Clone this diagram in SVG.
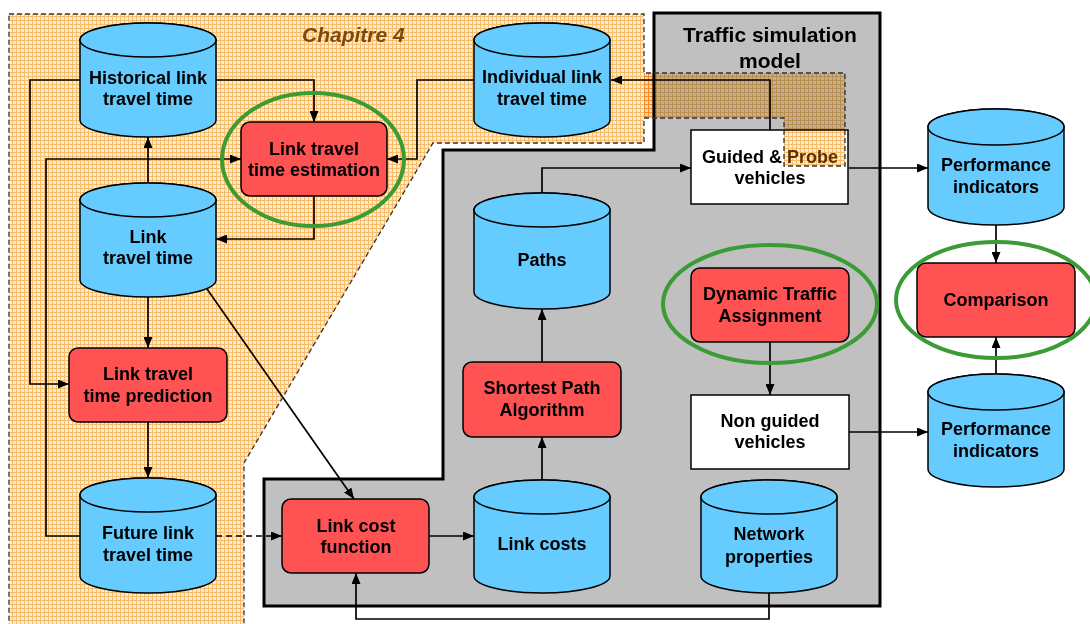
<svg xmlns="http://www.w3.org/2000/svg" width="1090" height="624" viewBox="0 0 1090 624">
  <defs>
    <!-- fine orange grid used for the chapter area -->
    <pattern id="grid" width="4" height="4" patternUnits="userSpaceOnUse">
      <rect width="4" height="4" fill="#feeacf"/>
      <path d="M0 0.5H4M0.5 0V4" stroke="#f8bd6c" stroke-width="1" fill="none"/>
    </pattern>
    <marker id="arrow" viewBox="0 0 11 9" refX="11" refY="4.5" markerWidth="11" markerHeight="9" markerUnits="userSpaceOnUse" orient="auto">
      <path d="M0 0L11 4.5L0 9Z" fill="#000"/>
    </marker>
    <style>
      .lbl { font-family: "Liberation Sans", Arial, sans-serif; font-weight: bold; font-size: 18px; fill: #000; text-anchor: middle; }
      .title { font-family: "Liberation Sans", Arial, sans-serif; font-weight: bold; font-size: 21px; fill: #000; text-anchor: middle; }
      .chap { font-family: "Liberation Sans", Arial, sans-serif; font-weight: bold; font-style: italic; font-size: 21px; fill: #7b4a12; }
      .cyl { fill: #66ccff; stroke: #000; stroke-width: 1.5; }
      .proc { fill: #ff5252; stroke: #000; stroke-width: 1.5; }
      .veh { fill: #fff; stroke: #000; stroke-width: 1.5; }
      .ring { fill: none; stroke: #3b9b34; stroke-width: 4; }
      .conn { fill: none; stroke: #000; stroke-width: 1.7; marker-end: url(#arrow); }
      .dash { stroke-dasharray: 6 4; }
      .zone { fill: none; stroke: #333; stroke-width: 1.3; stroke-dasharray: 5 3; }
      .tint { fill: url(#grid); mix-blend-mode: multiply; }
    </style>
  </defs>

  <rect width="1090" height="624" fill="#fff"/>

  <!-- chapter area background -->
  <path id="chapter-fill" d="M9 14H644V73H845V166H784V118H644V143H433L244 463V630H9Z" fill="url(#grid)"/>

  <!-- traffic simulation model frame -->
  <g id="traffic-model">
    <path d="M654 13H880V606H264V479H443V150H654Z" fill="#c0c0c0" stroke="#000" stroke-width="3"/>
    <text class="title" x="770" y="42">Traffic simulation</text>
    <text class="title" x="770" y="68">model</text>
  </g>

  <text class="chap" x="302" y="42">Chapitre 4</text>

  <g id="connectors">
    <path class="conn" d="M216 80H314V122"/>
    <path class="conn" d="M80 80H30V384H69"/>
    <path class="conn" d="M148 183V137"/>
    <path class="conn" d="M80 536H46V159H241"/>
    <path class="conn" d="M474 80H417V159H387"/>
    <path class="conn" d="M314 196V239H216"/>
    <path class="conn" d="M148 297V348"/>
    <path class="conn" d="M148 422V478"/>
    <path class="conn" d="M207 289L354 499"/>
    <path class="conn dash" d="M216 536H282"/>
    <path class="conn" d="M429 536H474"/>
    <path class="conn" d="M542 480V437"/>
    <path class="conn" d="M542 362V309"/>
    <path class="conn" d="M542 193V168H691"/>
    <path class="conn" d="M770 130V80H611"/>
    <path class="conn" d="M849 168H928"/>
    <path class="conn" d="M770 342V395"/>
    <path class="conn" d="M849 432H928"/>
    <path class="conn" d="M996 225V263"/>
    <path class="conn" d="M996 375V337"/>
    <path class="conn" d="M769 593V619H356V573"/>
  </g>

  <g id="historical-link-travel-time">
    <path class="cyl" d="M80 40V120A68 17 0 0 0 216 120V40A68 17 0 0 0 80 40Z"/>
    <ellipse class="cyl" cx="148" cy="40" rx="68" ry="17"/>
    <text class="lbl" x="148" y="84">Historical link</text>
    <text class="lbl" x="148" y="105">travel time</text>
  </g>

  <g id="link-travel-time">
    <path class="cyl" d="M80 200V280A68 17 0 0 0 216 280V200A68 17 0 0 0 80 200Z"/>
    <ellipse class="cyl" cx="148" cy="200" rx="68" ry="17"/>
    <text class="lbl" x="148" y="243">Link</text>
    <text class="lbl" x="148" y="264">travel time</text>
  </g>

  <g id="link-travel-time-prediction">
    <rect class="proc" x="69" y="348" width="158" height="74" rx="9"/>
    <text class="lbl" x="148" y="380">Link travel</text>
    <text class="lbl" x="148" y="402">time prediction</text>
  </g>

  <g id="future-link-travel-time">
    <path class="cyl" d="M80 495V576A68 17 0 0 0 216 576V495A68 17 0 0 0 80 495Z"/>
    <ellipse class="cyl" cx="148" cy="495" rx="68" ry="17"/>
    <text class="lbl" x="148" y="539">Future link</text>
    <text class="lbl" x="148" y="561">travel time</text>
  </g>

  <g id="link-travel-time-estimation">
    <rect class="proc" x="241" y="122" width="146" height="74" rx="9"/>
    <text class="lbl" x="314" y="155">Link travel</text>
    <text class="lbl" x="314" y="176">time estimation</text>
  </g>

  <g id="individual-link-travel-time">
    <path class="cyl" d="M474 40V120A68 17 0 0 0 610 120V40A68 17 0 0 0 474 40Z"/>
    <ellipse class="cyl" cx="542" cy="40" rx="68" ry="17"/>
    <text class="lbl" x="542" y="83">Individual link</text>
    <text class="lbl" x="542" y="105">travel time</text>
  </g>

  <g id="guided-probe-vehicles">
    <rect class="veh" x="691" y="130" width="157" height="74"/>
    <text class="lbl" x="770" y="163">Guided &amp; <tspan fill="#5a3a08">Probe</tspan></text>
    <text class="lbl" x="770" y="184">vehicles</text>
  </g>

  <g id="paths">
    <path class="cyl" d="M474 210V292A68 17 0 0 0 610 292V210A68 17 0 0 0 474 210Z"/>
    <ellipse class="cyl" cx="542" cy="210" rx="68" ry="17"/>
    <text class="lbl" x="542" y="266">Paths</text>
  </g>

  <g id="shortest-path-algorithm">
    <rect class="proc" x="463" y="362" width="158" height="75" rx="9"/>
    <text class="lbl" x="542" y="394">Shortest Path</text>
    <text class="lbl" x="542" y="416">Algorithm</text>
  </g>

  <g id="link-cost-function">
    <rect class="proc" x="282" y="499" width="147" height="74" rx="9"/>
    <text class="lbl" x="356" y="532">Link cost</text>
    <text class="lbl" x="356" y="553">function</text>
  </g>

  <g id="link-costs">
    <path class="cyl" d="M474 497V576A68 17 0 0 0 610 576V497A68 17 0 0 0 474 497Z"/>
    <ellipse class="cyl" cx="542" cy="497" rx="68" ry="17"/>
    <text class="lbl" x="542" y="550">Link costs</text>
  </g>

  <g id="network-properties">
    <path class="cyl" d="M701 497V576A68 17 0 0 0 837 576V497A68 17 0 0 0 701 497Z"/>
    <ellipse class="cyl" cx="769" cy="497" rx="68" ry="17"/>
    <text class="lbl" x="769" y="540">Network</text>
    <text class="lbl" x="769" y="563">properties</text>
  </g>

  <g id="dynamic-traffic-assignment">
    <rect class="proc" x="691" y="268" width="158" height="74" rx="9"/>
    <text class="lbl" x="770" y="300">Dynamic Traffic</text>
    <text class="lbl" x="770" y="322">Assignment</text>
  </g>

  <g id="non-guided-vehicles">
    <rect class="veh" x="691" y="395" width="158" height="74"/>
    <text class="lbl" x="770" y="427">Non guided</text>
    <text class="lbl" x="770" y="448">vehicles</text>
  </g>

  <g id="performance-indicators-guided">
    <path class="cyl" d="M928 127V207A68 18 0 0 0 1064 207V127A68 18 0 0 0 928 127Z"/>
    <ellipse class="cyl" cx="996" cy="127" rx="68" ry="18"/>
    <text class="lbl" x="996" y="171">Performance</text>
    <text class="lbl" x="996" y="193">indicators</text>
  </g>

  <g id="comparison">
    <rect class="proc" x="917" y="263" width="158" height="74" rx="9"/>
    <text class="lbl" x="996" y="306">Comparison</text>
  </g>

  <g id="performance-indicators-non-guided">
    <path class="cyl" d="M928 392V469A68 18 0 0 0 1064 469V392A68 18 0 0 0 928 392Z"/>
    <ellipse class="cyl" cx="996" cy="392" rx="68" ry="18"/>
    <text class="lbl" x="996" y="435">Performance</text>
    <text class="lbl" x="996" y="457">indicators</text>
  </g>

  <!-- highlight rings -->
  <g id="highlights">
    <ellipse class="ring" cx="313" cy="159.5" rx="91" ry="66.5"/>
    <ellipse class="ring" cx="770" cy="304" rx="107" ry="59"/>
    <ellipse class="ring" cx="996" cy="300" rx="100" ry="58"/>
  </g>

  <!-- probe extension of the chapter area, tinting the simulation frame below it -->
  <path class="tint" d="M644 73H845V166H784V118H644Z"/>
  <path class="zone" d="M9 14H644V73H845V166H784V118H644V143H433L244 463V630H9Z"/>
</svg>
